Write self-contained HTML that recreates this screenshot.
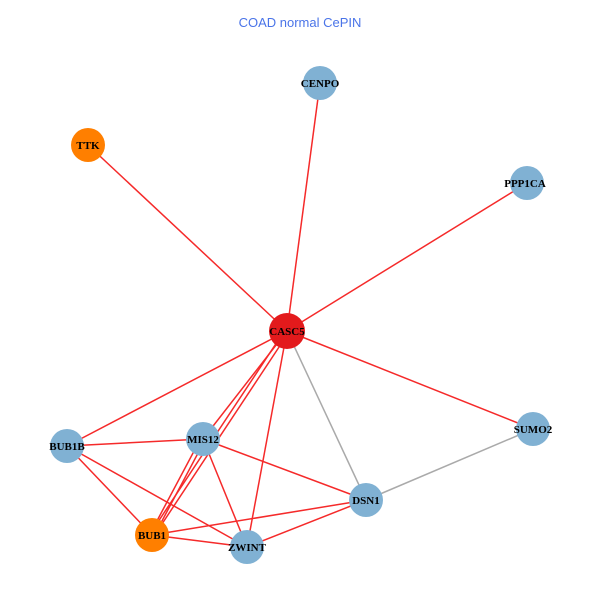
<!DOCTYPE html>
<html><head><style>body{margin:0;background:#fff}</style></head><body>
<svg width="600" height="600" xmlns="http://www.w3.org/2000/svg">
<text x="300" y="27" text-anchor="middle" font-family="Liberation Sans, sans-serif" font-size="13" fill="#4a74e8">COAD normal CePIN</text>
<g stroke="#f52a2a" stroke-width="1.5">
<line x1="88" y1="145" x2="287" y2="331"/>
<line x1="320" y1="83" x2="287" y2="331"/>
<line x1="527" y1="183" x2="287" y2="331"/>
<line x1="287" y1="331" x2="533" y2="429"/>
<line x1="287" y1="331" x2="67" y2="446"/>
<line x1="287" y1="331" x2="203" y2="439"/>
<line x1="285" y1="330" x2="150" y2="534"/>
<line x1="289" y1="332" x2="154" y2="536"/>
<line x1="287" y1="331" x2="247" y2="547"/>
<line x1="67" y1="446" x2="203" y2="439"/>
<line x1="67" y1="446" x2="152" y2="535"/>
<line x1="67" y1="446" x2="247" y2="547"/>
<line x1="201" y1="438" x2="150" y2="534"/>
<line x1="205" y1="440" x2="154" y2="536"/>
<line x1="203" y1="439" x2="247" y2="547"/>
<line x1="203" y1="439" x2="366" y2="500"/>
<line x1="152" y1="535" x2="366" y2="500"/>
<line x1="152" y1="535" x2="247" y2="547"/>
<line x1="247" y1="547" x2="366" y2="500"/>
</g>
<g stroke="#aaaaaa" stroke-width="1.5">
<line x1="287" y1="331" x2="366" y2="500"/>
<line x1="533" y1="429" x2="366" y2="500"/>
</g>
<g>
<circle cx="320" cy="83" r="17" fill="#80b1d3"/>
<circle cx="88" cy="145" r="17" fill="#ff7f00"/>
<circle cx="527" cy="183" r="17" fill="#80b1d3"/>
<circle cx="287" cy="331" r="18" fill="#e31a1c"/>
<circle cx="67" cy="446" r="17" fill="#80b1d3"/>
<circle cx="203" cy="439" r="17" fill="#80b1d3"/>
<circle cx="533" cy="429" r="17" fill="#80b1d3"/>
<circle cx="366" cy="500" r="17" fill="#80b1d3"/>
<circle cx="152" cy="535" r="17" fill="#ff7f00"/>
<circle cx="247" cy="547" r="17" fill="#80b1d3"/>
</g>
<g font-family="Liberation Serif, serif" font-weight="bold" font-size="11" text-anchor="middle" fill="#000">
<text x="320" y="87">CENPO</text>
<text x="88" y="149">TTK</text>
<text x="525" y="187">PPP1CA</text>
<text x="287" y="335">CASC5</text>
<text x="67" y="450">BUB1B</text>
<text x="203" y="443">MIS12</text>
<text x="533" y="433">SUMO2</text>
<text x="366" y="504">DSN1</text>
<text x="152" y="539">BUB1</text>
<text x="247" y="551">ZWINT</text>
</g>
</svg>
</body></html>
